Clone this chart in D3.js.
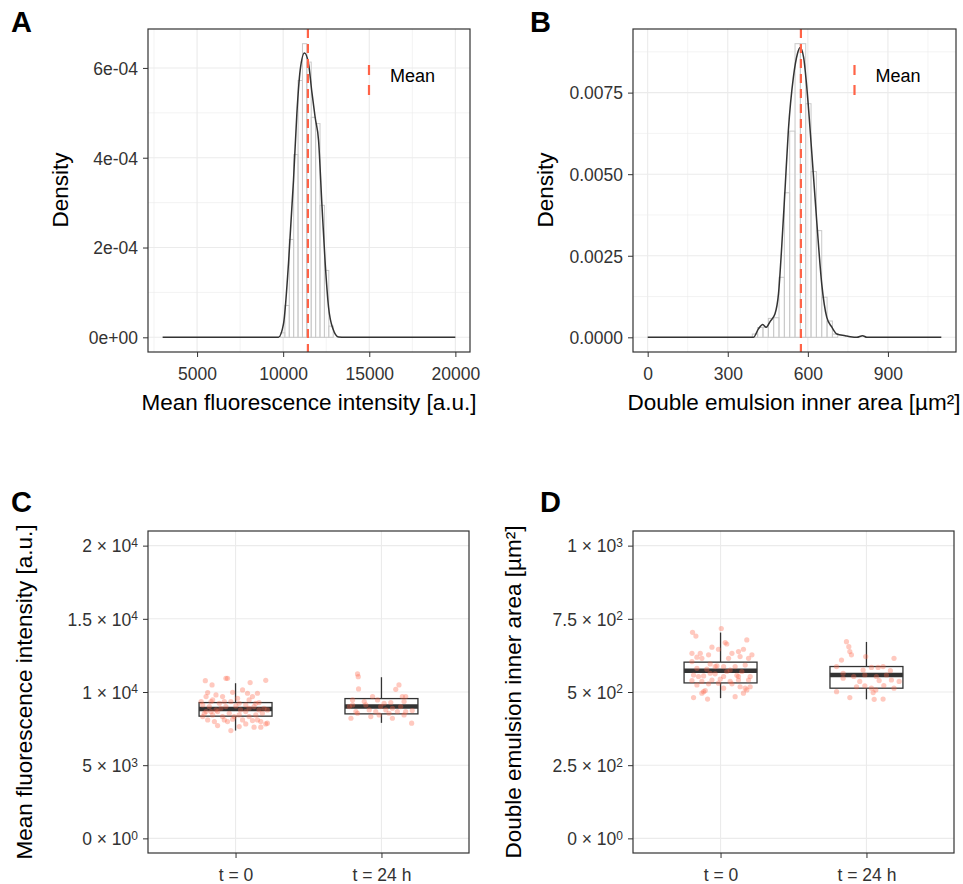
<!DOCTYPE html>
<html>
<head>
<meta charset="utf-8">
<title>Droplet fluorescence and size</title>
<script src="https://d3js.org/d3.v7.min.js"></script>
<style>
  body { margin: 0; background: #fff; }
  text { font-family: "Liberation Sans", Arial, sans-serif; fill: #000; }
  .tick text { font-size: 17.5px; fill: #333; }
  .tick line { stroke: #333; }
</style>
</head>
<body>
<script>
// ---- data ----
// A: histogram of mean fluorescence intensity (density scale)
var histA_start = 9845
var histA_binWidth = 255
var histA_density = [0.1e-4, 0.71e-4, 2.18e-4, 4.07e-4, 5.72e-4, 6.54e-4, 6.13e-4, 4.90e-4, 4.76e-4, 2.94e-4, 1.49e-4, 0.25e-4]
var densA_x = [3000, 9400, 9727, 10019, 10308, 10599, 10795, 10988, 11238, 11471, 11667, 11860, 12054, 12248, 12442, 12636, 12890, 13217, 13600, 20000]
var densA_y = [0, 0, 0.003e-4, 0.3e-4, 1.64e-4, 3.49e-4, 4.98e-4, 5.95e-4, 6.33e-4, 6.1e-4, 5.46e-4, 4.89e-4, 4.39e-4, 2.97e-4, 1.64e-4, 0.67e-4, 0.19e-4, 0.005e-4, 0, 0]
var meanA = 11436

// B: histogram of double emulsion inner area
var histB_start = 392
var histB_binWidth = 20
var histB_density = [0.0001, 0.0003, 0.00031, 0.00058, 0.0006, 0.00184, 0.00443, 0.00632, 0.0090, 0.0090, 0.00716, 0.00508, 0.00327, 0.00123, 0.0005, 0.0001]
var densB_x = [0, 380, 396, 415, 431, 444, 459, 477, 490, 502, 515, 527, 546, 561, 571, 584, 596, 615, 634, 652, 671, 690, 709, 740, 759, 784, 805, 821, 850, 1100]
var densB_y = [0, 0, 0, 0.00026, 0.00039, 0.00031, 0.00049, 0.00072, 0.00133, 0.00276, 0.0046, 0.00634, 0.00798, 0.00869, 0.00888, 0.00859, 0.00767, 0.00563, 0.00348, 0.00164, 0.00061, 0.00031, 0.0001, 0.00005, 0.00002, 0, 0.00005, 0, 0, 0]
var meanB = 574

// C/D: box plots per time point
var groups = ["t = 0", "t = 24 h"]
var boxC_lo = [7367, 7892], boxC_q1 = [8349, 8506], boxC_med = [8847, 9004], boxC_q3 = [9277, 9550], boxC_hi = [10600, 11010]
var boxD_lo = [479, 475], boxD_q1 = [531, 513], boxD_med = [573, 558], boxD_q3 = [602, 587], boxD_hi = [703, 671]

// jittered droplets: [horizontal jitter in group units, value]
var ptsC_t0 = [[-0.207,10777],[-0.161,10482],[-0.066,10936],[-0.055,10936],[0.100,10641],[0.207,10800],[-0.191,9959],[-0.134,9799],[-0.020,9981],[0.048,10141],[0.082,9913],[0.150,9913],[-0.202,9686],[-0.168,9345],[-0.111,9231],[-0.032,9345],[0.025,9231],[0.093,9458],[0.161,9276],[-0.225,9117],[-0.180,9004],[-0.134,8776],[-0.066,9004],[0.002,9049],[0.070,9117],[0.127,9004],[0.195,8890],[0.218,8776],[-0.214,8549],[-0.157,8435],[-0.089,8321],[-0.043,8549],[0.025,8435],[0.093,8321],[0.139,8435],[0.184,8549],[-0.191,8094],[-0.145,7980],[-0.077,8094],[-0.020,8139],[0.048,8094],[0.116,8049],[0.173,7980],[0.218,7867],[-0.123,7707],[-0.032,7366],[0.127,7594],[0.173,7594],[0.207,7821],[0.070,7821],[-0.157,9458],[-0.089,9686],[-0.236,9345],[0.014,9572],[0.116,9686],[0.070,8662],[-0.123,8662],[-0.202,8662],[-0.055,7980],[0.150,8094],[-0.100,8890],[0.034,8776],[0.161,8776],[-0.168,8662],[-0.009,8321],[0.093,8890],[-0.077,9345],[0.139,9231],[-0.225,8321],[0.025,7639]]
var ptsC_t24 = [[-0.164,11232],[-0.159,11050],[-0.157,10209],[0.120,10482],[0.098,10186],[-0.198,9458],[-0.118,9345],[-0.061,9686],[-0.027,9458],[0.018,9231],[0.064,9276],[0.143,9686],[0.166,9686],[0.155,9345],[-0.220,9004],[-0.175,8662],[-0.084,8776],[-0.039,8662],[0.030,8776],[0.075,8890],[0.109,8662],[0.166,8662],[0.211,8731],[-0.209,8208],[-0.164,8549],[-0.073,8321],[-0.016,8435],[0.052,8549],[0.075,8208],[0.155,8435],[0.207,7867],[-0.198,9117],[-0.107,9117],[0.132,9004],[-0.005,9004]]
var ptsD_t0 = [[0.005,717],[-0.192,704],[-0.169,691],[0.180,678],[0.032,669],[0.043,664],[-0.059,653],[-0.014,646],[-0.196,632],[-0.139,632],[-0.082,627],[0.078,632],[0.123,638],[0.157,646],[0.215,627],[-0.162,619],[-0.128,615],[0.055,615],[0.134,621],[-0.196,604],[-0.071,596],[-0.025,589],[0.021,587],[0.100,587],[0.169,592],[-0.162,581],[-0.094,578],[0.066,575],[0.146,570],[-0.185,558],[-0.116,555],[-0.037,562],[0.021,553],[0.112,557],[0.203,553],[-0.196,539],[-0.128,536],[-0.059,541],[-0.002,544],[0.066,536],[0.123,541],[0.192,541],[-0.162,524],[-0.082,528],[-0.014,530],[0.078,528],[0.134,518],[0.203,518],[-0.116,501],[-0.105,505],[-0.128,496],[0.021,513],[0.100,484],[0.157,496],[0.169,513],[-0.185,481],[-0.089,476],[0.180,507],[-0.037,587],[0.043,570],[-0.071,564],[-0.151,553],[0.123,553],[0.192,615]]
var ptsD_t24 = [[-0.137,672],[-0.121,655],[-0.114,638],[-0.103,627],[-0.005,621],[-0.171,609],[0.189,615],[-0.205,587],[-0.023,575],[0.034,584],[0.080,584],[0.114,587],[0.164,573],[-0.160,564],[-0.087,553],[-0.011,558],[0.068,553],[0.137,558],[0.224,536],[0.087,539],[-0.205,501],[-0.011,521],[0.034,513],[0.064,507],[0.119,522],[0.189,513],[0.046,498],[-0.114,481],[0.053,475],[0.114,476],[-0.160,547],[-0.046,536],[0.171,541],[-0.068,518]]

var ticksC = [0, 5000, 10000, 15000, 20000]
var ticksC_mant = ["0", "5", "1", "1.5", "2"], ticksC_exp = ["0", "3", "4", "4", "4"]
var ticksD = [0, 250, 500, 750, 1000]
var ticksD_mant = ["0", "2.5", "5", "7.5", "1"], ticksD_exp = ["0", "2", "2", "2", "3"]

// ---- drawing ----
var width = 963, height = 884
var red = "#ff6347"
var svg = d3.select("body").append("svg").attr("width", width).attr("height", height)

function gridLines(g, x, y, xs, ys, minor) {
    g.selectAll(null).data(xs).enter().append("line")
        .attr("x1", d => x(d)).attr("x2", d => x(d))
        .attr("y1", y.range()[0]).attr("y2", y.range()[1])
        .attr("stroke", "#ebebeb").attr("stroke-width", minor ? 0.6 : 1.1)
    g.selectAll(null).data(ys).enter().append("line")
        .attr("y1", d => y(d)).attr("y2", d => y(d))
        .attr("x1", x.range()[0]).attr("x2", x.range()[1])
        .attr("stroke", "#ebebeb").attr("stroke-width", minor ? 0.6 : 1.1)
}

function frame(x, y) {
    svg.append("rect")
        .attr("x", x.range()[0]).attr("y", y.range()[1])
        .attr("width", x.range()[1] - x.range()[0]).attr("height", y.range()[0] - y.range()[1])
        .attr("fill", "none").attr("stroke", "#333").attr("stroke-width", 1.2)
}

function axes(x, y, xTicks, xFmt, yTicks, yFmt) {
    var gx = svg.append("g").attr("transform", "translate(0," + y.range()[0] + ")")
        .call(d3.axisBottom(x).tickValues(xTicks).tickFormat(xFmt).tickSize(5).tickPadding(5))
    var gy = svg.append("g").attr("transform", "translate(" + x.range()[0] + ",0)")
        .call(d3.axisLeft(y).tickValues(yTicks).tickFormat(yFmt).tickSize(5).tickPadding(5))
    gx.select(".domain").remove()
    gy.select(".domain").remove()
    gx.selectAll(".tick text").attr("dy", "1.05em")
    gy.selectAll(".tick text").attr("dy", "0.36em")
    return gy
}

function axisTitle(txt, x, y, rotate) {
    svg.append("text")
        .attr("transform", "translate(" + x + "," + y + ")" + (rotate ? " rotate(-90)" : ""))
        .attr("text-anchor", "middle").attr("font-size", 22.5).text(txt)
}

function panelTag(txt, x, y) {
    svg.append("text").attr("x", x).attr("y", y).attr("font-size", 29).attr("font-weight", "bold").text(txt)
}

function histPanel(opt) {
    var x = opt.x, y = opt.y
    var g = svg.append("g")
    gridLines(g, x, y, opt.xMinor, opt.yMinor, true)
    gridLines(g, x, y, opt.xTicks, opt.yTicks, false)

    var bins = opt.density.map((d, i) => ({x0: opt.start + i * opt.bw, x1: opt.start + (i + 1) * opt.bw, d: d}))
    g.selectAll(null).data(bins).enter().append("rect")
        .attr("x", d => x(d.x0)).attr("width", d => x(d.x1) - x(d.x0))
        .attr("y", d => y(d.d)).attr("height", d => y(0) - y(d.d))
        .attr("fill", "#fff").attr("fill-opacity", 0.3)
        .attr("stroke", "#c9c9c9").attr("stroke-width", 1)

    var line = d3.line().x(d => x(d[0])).y(d => y(d[1])).curve(d3.curveMonotoneX)
    g.append("path").datum(d3.zip(opt.dx, opt.dy)).attr("d", line)
        .attr("fill", "none").attr("stroke", "#333").attr("stroke-width", 1.5)

    g.append("line").attr("x1", x(opt.mean)).attr("x2", x(opt.mean))
        .attr("y1", y.range()[1]).attr("y2", y.range()[0])
        .attr("stroke", red).attr("stroke-width", 2.2).attr("stroke-dasharray", "9,6")

    // legend
    var lx = x.range()[1] - opt.legendOff
    g.append("line").attr("x1", lx).attr("x2", lx).attr("y1", 65).attr("y2", 96)
        .attr("stroke", red).attr("stroke-width", 2.2).attr("stroke-dasharray", "10,10")
    g.append("text").attr("x", lx + 21).attr("y", 81.5).attr("font-size", 18).text("Mean")

    frame(x, y)
    axes(x, y, opt.xTicks, opt.xFmt, opt.yTicks, opt.yFmt)
}

function boxPanel(opt) {
    var x = opt.x, y = opt.y
    var g = svg.append("g")
    gridLines(g, x, y, [1, 2], opt.yTicks, false)
    var hw = 0.25
    groups.forEach(function(grp, i) {
        var c = i + 1
        g.append("line").attr("x1", x(c)).attr("x2", x(c)).attr("y1", y(opt.hi[i])).attr("y2", y(opt.q3[i]))
            .attr("stroke", "#333").attr("stroke-width", 1.3)
        g.append("line").attr("x1", x(c)).attr("x2", x(c)).attr("y1", y(opt.q1[i])).attr("y2", y(opt.lo[i]))
            .attr("stroke", "#333").attr("stroke-width", 1.3)
        g.append("rect").attr("x", x(c - hw)).attr("width", x(c + hw) - x(c - hw))
            .attr("y", y(opt.q3[i])).attr("height", y(opt.q1[i]) - y(opt.q3[i]))
            .attr("fill", "#fff").attr("stroke", "#333").attr("stroke-width", 1.3)
        g.append("line").attr("x1", x(c - hw)).attr("x2", x(c + hw)).attr("y1", y(opt.med[i])).attr("y2", y(opt.med[i]))
            .attr("stroke", "#333").attr("stroke-width", 4.5)
        g.selectAll(null).data(opt.pts[i]).enter().append("circle")
            .attr("cx", d => x(c + d[0])).attr("cy", d => y(d[1])).attr("r", 2.6)
            .attr("fill", red).attr("fill-opacity", 0.35)
    })
    frame(x, y)
    var gy = axes(x, y, [1, 2], (d, i) => groups[i], opt.yTicks, "")
    gy.selectAll(".tick text").each(function(d, i) {
        var t = d3.select(this)
        t.append("tspan").text(opt.mant[i] + " \u00d7 10")
        t.append("tspan").attr("dy", "-0.45em").attr("font-size", 12).text(opt.exp[i])
    })
}

// A
var xA = d3.scaleLinear().domain([2150, 20850]).range([148, 470])
var yA = d3.scaleLinear().domain([-0.327e-4, 6.867e-4]).range([352, 29])
histPanel({x: xA, y: yA, start: histA_start, bw: histA_binWidth, density: histA_density,
    dx: densA_x, dy: densA_y, mean: meanA, legendOff: 101,
    xTicks: [5000, 10000, 15000, 20000], xMinor: [2500, 7500, 12500, 17500], xFmt: d3.format("d"),
    yTicks: [0, 2e-4, 4e-4, 6e-4], yMinor: [1e-4, 3e-4, 5e-4],
    yFmt: d => d === 0 ? "0e+00" : d3.format(".0e")(d).replace("e-", "e-0")})

// B
var xB = d3.scaleLinear().domain([-55, 1155]).range([633, 956])
var yB = d3.scaleLinear().domain([-0.00045, 0.00945]).range([352, 29])
histPanel({x: xB, y: yB, start: histB_start, bw: histB_binWidth, density: histB_density,
    dx: densB_x, dy: densB_y, mean: meanB, legendOff: 101.5,
    xTicks: [0, 300, 600, 900], xMinor: [150, 450, 750, 1050], xFmt: d3.format("d"),
    yTicks: [0, 0.0025, 0.005, 0.0075], yMinor: [0.00125, 0.00375, 0.00625, 0.00875],
    yFmt: d3.format(".4f")})

// C
var xC = d3.scaleLinear().domain([0.4, 2.6]).range([148, 469])
var yC = d3.scaleLinear().domain([-1000, 21000]).range([853, 531])
boxPanel({x: xC, y: yC, lo: boxC_lo, q1: boxC_q1, med: boxC_med, q3: boxC_q3, hi: boxC_hi,
    pts: [ptsC_t0, ptsC_t24], yTicks: ticksC, mant: ticksC_mant, exp: ticksC_exp})

// D
var xD = d3.scaleLinear().domain([0.4, 2.6]).range([633, 954])
var yD = d3.scaleLinear().domain([-50, 1050]).range([853, 531])
boxPanel({x: xD, y: yD, lo: boxD_lo, q1: boxD_q1, med: boxD_med, q3: boxD_q3, hi: boxD_hi,
    pts: [ptsD_t0, ptsD_t24], yTicks: ticksD, mant: ticksD_mant, exp: ticksD_exp})

// titles and panel tags
axisTitle("Mean fluorescence intensity [a.u.]", 309, 410, false)
axisTitle("Density", 68, 190, true)
axisTitle("Double emulsion inner area [\u00b5m\u00b2]", 794, 410, false)
axisTitle("Density", 553, 190, true)
axisTitle("Mean fluorescence intensity [a.u.]", 32, 692, true)
axisTitle("Double emulsion inner area [\u00b5m\u00b2]", 521, 692, true)

panelTag("A", 11, 32)
panelTag("B", 530, 32)
panelTag("C", 11, 512)
panelTag("D", 540, 512)
</script>
</body>
</html>
